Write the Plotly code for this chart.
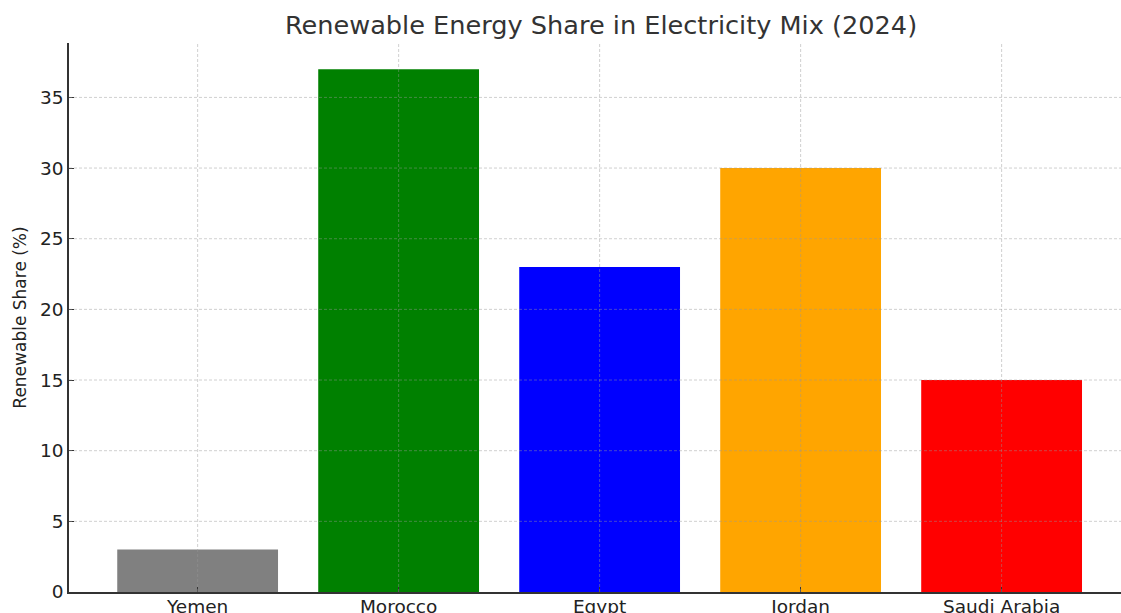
import plotly.graph_objects as go

countries = ["Yemen", "Morocco", "Egypt", "Jordan", "Saudi Arabia"]
shares = [3, 37, 23, 30, 15]
colors = ["#808080", "#008000", "#0000ff", "#ffa500", "#ff0000"]
y_ticks = [0, 5, 10, 15, 20, 25, 30, 35]

fig = go.Figure()
fig.add_trace(go.Bar(
    x=countries, y=shares, marker=dict(color=colors, line=dict(width=0)),
    width=0.8, showlegend=False,
))

grid_style = dict(color="rgba(150,150,150,0.45)", width=1, dash="3px,2px")
shapes = []
for v in y_ticks[1:]:
    shapes.append(dict(type="line", xref="paper", x0=0, x1=1, yref="y", y0=v, y1=v,
                       line=grid_style, layer="above"))
for c in countries:
    shapes.append(dict(type="line", xref="x", x0=c, x1=c, yref="paper", y0=0, y1=1,
                       line=grid_style, layer="above"))

fig.update_layout(
    width=1121, height=613,
    margin=dict(l=69, r=0, t=43, b=21, autoexpand=False),
    paper_bgcolor="white", plot_bgcolor="white",
    font=dict(family="DejaVu Sans", color="#222222"),
    title=dict(text="Renewable Energy Share in Electricity Mix (2024)",
               font=dict(size=25.6, color="#333333", family="DejaVu Sans"),
               xref="container", x=601/1121, xanchor="center",
               yref="container", y=1-25/613, yanchor="middle"),
    shapes=shapes,
    bargap=0.2,
)
fig.update_xaxes(
    type="category", range=[-0.64, 4.594], automargin=False,
    showgrid=False, showline=True, linecolor="#333333", linewidth=1.5,
    ticks="inside", ticklen=5, tickwidth=1.2, tickcolor="#333333",
    tickfont=dict(size=18.5, color="#222222"), zeroline=False,
    ticklabelstandoff=-3,
)
fig.update_yaxes(
    range=[0, 38.85], tickvals=y_ticks, automargin=False,
    showgrid=False, showline=True, linecolor="#333333", linewidth=1.5,
    ticks="inside", ticklen=5, tickwidth=1.2, tickcolor="#333333",
    tickfont=dict(size=18.5, color="#222222"), zeroline=False,
    title=dict(text="Renewable Share (%)", font=dict(size=17, color="#222222"),
               standoff=9),
)

fig.write_html(
    "out.html",
    config={"displayModeBar": False},
    post_script="document.body.style.margin='0px';document.body.style.overflow='hidden';",
)
